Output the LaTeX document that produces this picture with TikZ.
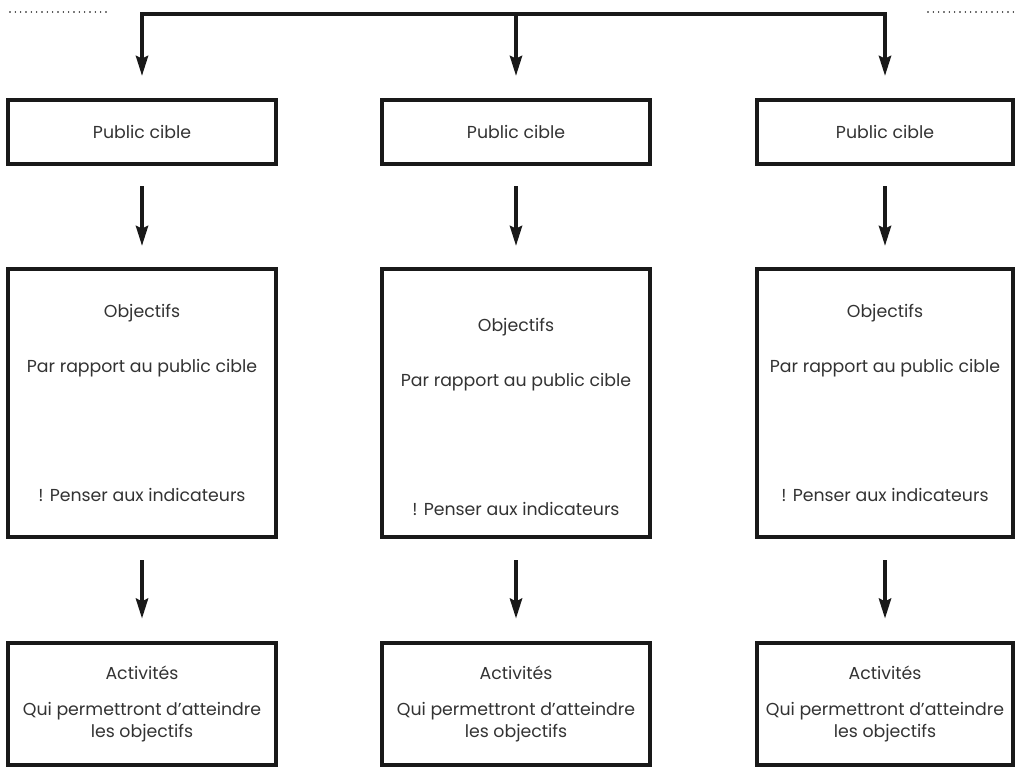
\documentclass[tikz,border=0pt]{standalone}
\usepackage{fontspec}
\setmainfont{Poppins}
\usetikzlibrary{arrows.meta,positioning}

\begin{document}
\begin{tikzpicture}[
    x=0.75pt, y=-0.75pt,
    node distance=76pt,
    box/.style={rectangle, draw=black!90, line width=3pt, fill=white, align=center, text=black!80, font=\fontsize{13}{17}\selectfont},
    pubbox/.style={box, minimum width=201pt, minimum height=48pt},
    objbox/.style={box, minimum width=201pt, minimum height=201pt},
    actbox/.style={box, minimum width=201pt, minimum height=92pt},
    narrow/.style={minimum width=192pt},
    flow/.style={-{Stealth[length=15pt,width=9pt,inset=2pt]}, line width=3pt, draw=black!90},
    dots/.style={line width=1.2pt, line cap=round, dash pattern=on 0pt off 4pt}
]
\useasboundingbox (0,0) rectangle (1016,774);

% --- Public cible ---
\node[pubbox] (pubL) at (142,132) {Public cible};
\node[pubbox] (pubM) at (516,132) {Public cible};
\node[pubbox, narrow] (pubR) at (885,132) {Public cible};

% --- Objectifs ---
\node[objbox, below=of pubL] (objL) {Objectifs\\[24pt]Par rapport au public cible\\[80pt]! Penser aux indicateurs};
\node[objbox, below=of pubM] (objM) {\rule{0pt}{31pt}Objectifs\\[24pt]Par rapport au public cible\\[80pt]! Penser aux indicateurs};
\node[objbox, narrow, below=of pubR] (objR) {Objectifs\\[24pt]Par rapport au public cible\\[80pt]! Penser aux indicateurs};

% --- Activites ---
\node[actbox, below=of objL] (actL) {Activités\\[10pt]Qui permettront d’atteindre\\les objectifs};
\node[actbox, below=of objM] (actM) {Activités\\[10pt]Qui permettront d’atteindre\\les objectifs};
\node[actbox, narrow, below=of objR] (actR) {Activités\\[10pt]Qui permettront d’atteindre\\les objectifs};

% top line and dotted ends
\coordinate (hub) at (516,14);
\coordinate (dotL1) at (10,12);
\coordinate (dotL2) at (110,12);
\coordinate (dotR1) at (928,12);
\coordinate (dotR2) at (1016,12);
\draw[dots] (dotL1) -- (dotL2);
\draw[dots] (dotR1) -- (dotR2);

% Arrows
\draw[flow, shorten >=16.5pt] (hub) -| (pubL);
\draw[flow, shorten >=16.5pt] (hub) -- (pubM);
\draw[flow, shorten >=16.5pt] (hub) -| (pubR);

\draw[flow, shorten <=15pt, shorten >=16pt] (pubL) -- (objL);
\draw[flow, shorten <=15pt, shorten >=16pt] (pubM) -- (objM);
\draw[flow, shorten <=15pt, shorten >=16pt] (pubR) -- (objR);

\draw[flow, shorten <=15.5pt, shorten >=16.5pt] (objL) -- (actL);
\draw[flow, shorten <=15.5pt, shorten >=16.5pt] (objM) -- (actM);
\draw[flow, shorten <=15.5pt, shorten >=16.5pt] (objR) -- (actR);

\end{tikzpicture}
\end{document}
